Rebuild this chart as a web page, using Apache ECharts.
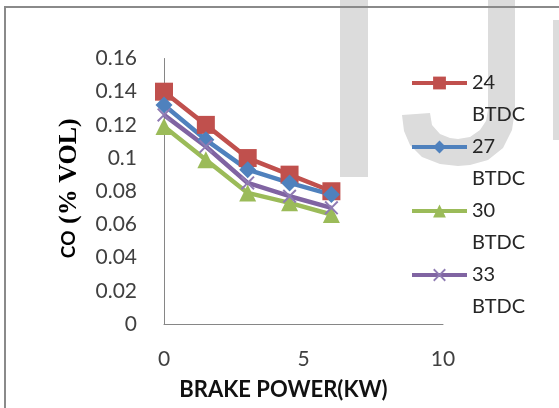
<!DOCTYPE html>
<html><head><meta charset="utf-8">
<script src="https://cdn.jsdelivr.net/npm/echarts@6/dist/echarts.min.js"></script>
<style>html,body{margin:0;padding:0;background:#fff}#c{width:559px;height:408px}</style>
</head><body><div id="c"></div>
<script>
const xValues = [0, 1.5, 3, 4.5, 6];
const seriesNames = ['24\nBTDC', '27\nBTDC', '30\nBTDC', '33\nBTDC'];
const co24 = [0.140, 0.120, 0.100, 0.090, 0.080];
const co27 = [0.132, 0.111, 0.093, 0.085, 0.078];
const co30 = [0.119, 0.099, 0.079, 0.073, 0.066];
const co33 = [0.126, 0.107, 0.085, 0.077, 0.070];

const colors = ['#C0504D', '#4F81BD', '#9BBB59', '#8064A2'];
const markerColors = ['#C0504D', '#4F81BD', '#9BBB59', '#8F7BB3'];
const crossPath = 'path://M0,1L1,0L5,4L9,0L10,1L6,5L10,9L9,10L5,6L1,10L0,9L4,5Z';
const symbols = ['rect', 'diamond', 'triangle', crossPath];
const symbolSizes = [18, 17, 17, 14];
const allData = [co24, co27, co30, co33];

const jShape = [[515,0],[515,110],[512,130],[503,148],[488,160],[470,165],[458,166],[440,164],[422,157],[410,145],[404,131],[402,115],[430,113],[432,125],[440,134],[450,138],[458,139],[470,137],[480,130],[486,121],[488,110],[488,0]];

const chart = echarts.init(document.getElementById('c'));
const labelFont = {fontFamily: 'Lato', fontSize: 21, color: '#404040'};
chart.setOption({
  animation: false,
  grid: {left: 164, top: 58.5, right: 116, bottom: 84},
  graphic: [
    {type: 'rect', z: -10, silent: true, shape: {x: 340, y: 0, width: 28, height: 177}, style: {fill: '#dcdcdc'}},
    {type: 'polygon', z: -10, silent: true, shape: {points: jShape}, style: {fill: '#dcdcdc'}},
    {type: 'polygon', z: -10, silent: true, shape: {points: [[553, 20], [559, 20], [559, 140], [553, 140]]}, style: {fill: '#dcdcdc'}},
    {type: 'polyline', z: 100, silent: true, shape: {points: [[5, 410], [5, 7], [570, 7]]}, style: {stroke: '#8a8a8a', lineWidth: 2, fill: null}}
  ],
  legend: {
    orient: 'vertical',
    left: 410, top: 35, padding: 0,
    itemWidth: 55, itemHeight: 16, itemGap: -32,
    data: seriesNames,
    formatter: name => '\n' + name,
    lineStyle: {width: 4},
    textStyle: {fontFamily: 'Lato', fontSize: 20, color: '#262626', lineHeight: 32}
  },
  xAxis: {
    type: 'value', min: 0, max: 10, interval: 5,
    name: 'BRAKE POWER(KW)', nameLocation: 'middle', nameGap: 55,
    nameTextStyle: {fontFamily: 'Lato', fontWeight: 'bold', fontSize: 22, color: '#111', padding: [0, 40, 0, 0]},
    axisLine: {show: true, lineStyle: {color: '#868686', width: 1}},
    axisTick: {show: false},
    splitLine: {show: false},
    axisLabel: Object.assign({margin: 25}, labelFont)
  },
  yAxis: {
    type: 'value', min: 0, max: 0.16, interval: 0.02,
    name: '{a|CO}{b| (% VOL)}', nameLocation: 'middle', nameGap: 82,
    nameTextStyle: {
      color: '#000', padding: [0, 0, 0, 6],
      rich: {
        a: {fontFamily: 'Lato', fontWeight: 'bold', fontSize: 19, color: '#000'},
        b: {fontFamily: 'Liberation Serif', fontWeight: 'bold', fontSize: 26, color: '#000'}
      }
    },
    axisLine: {show: true, lineStyle: {color: '#868686', width: 1}},
    axisTick: {show: false},
    splitLine: {show: false},
    axisLabel: Object.assign({margin: 27, formatter: v => String(+v.toFixed(2))}, labelFont)
  },
  series: allData.map((arr, i) => ({
    name: seriesNames[i],
    type: 'line',
    data: arr.map((v, j) => [xValues[j], v]),
    symbol: symbols[i],
    symbolSize: symbolSizes[i],
    showAllSymbol: true,
    lineStyle: {color: colors[i], width: 4.5},
    itemStyle: {color: markerColors[i]},
    color: colors[i]
  }))
});
</script></body></html>
